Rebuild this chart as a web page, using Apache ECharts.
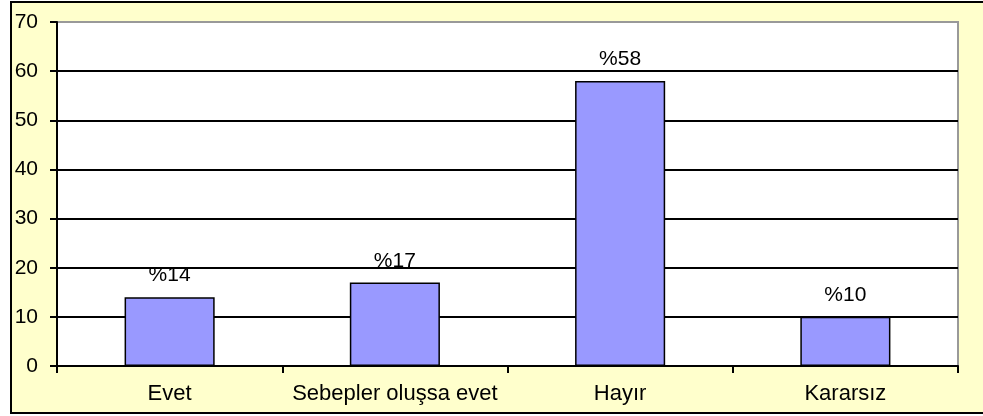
<!DOCTYPE html>
<html>
<head>
<meta charset="utf-8">
<script src="https://cdn.jsdelivr.net/npm/echarts@6/dist/echarts.min.js"></script>
<style>
html,body{margin:0;padding:0;background:#fff;}
#c{width:983px;height:416px;}
</style>
</head>
<body>
<div id="c"></div>
<script>
const categories = ["Evet", "Sebepler oluşsa evet", "Hayır", "Kararsız"];
const values = [14, 17, 58, 10];
const labelTexts = ["%14", "%17", "%58", "%10"];
const yTicks = [0, 10, 20, 30, 40, 50, 60, 70];

const chart = echarts.init(document.getElementById('c'), null, {renderer: 'canvas'});
const font = '"Liberation Sans", Arial, sans-serif';
chart.setOption({
  animation: false,
  graphic: [{
    type: 'rect', z: -10, silent: true,
    shape: {x: 11, y: 2, width: 990, height: 411},
    style: {fill: '#FFFFCC', stroke: '#000', lineWidth: 2}
  }],
  grid: {
    left: 57, right: 25, top: 22, bottom: 50,
    show: true, backgroundColor: '#fff',
    borderColor: '#999999', borderWidth: 2
  },
  xAxis: {
    type: 'category',
    data: categories,
    axisLine: {lineStyle: {color: '#000', width: 2}},
    axisTick: {show: true, interval: 0, length: 7, lineStyle: {color: '#000', width: 2}},
    axisLabel: {color: '#000', fontFamily: font, fontSize: 22, margin: 17, interval: 0},
    splitLine: {show: false}
  },
  yAxis: {
    type: 'value',
    min: yTicks[0], max: yTicks[yTicks.length - 1], interval: 10,
    axisLine: {show: true, lineStyle: {color: '#000', width: 2}},
    axisTick: {show: true, length: 7, lineStyle: {color: '#000', width: 2}},
    axisLabel: {color: '#000', fontFamily: font, fontSize: 21, margin: 19},
    splitLine: {show: true, showMaxLine: false, showMinLine: false, lineStyle: {color: '#000', width: 2}}
  },
  series: [{
    type: 'bar',
    data: values,
    barCategoryGap: '60%',
    itemStyle: {color: '#9999FF', borderColor: '#000', borderWidth: 1.5},
    label: {
      show: true, position: 'top', distance: 11,
      color: '#000', fontFamily: font, fontSize: 21,
      formatter: p => labelTexts[p.dataIndex]
    }
  }]
});
</script>
</body>
</html>
